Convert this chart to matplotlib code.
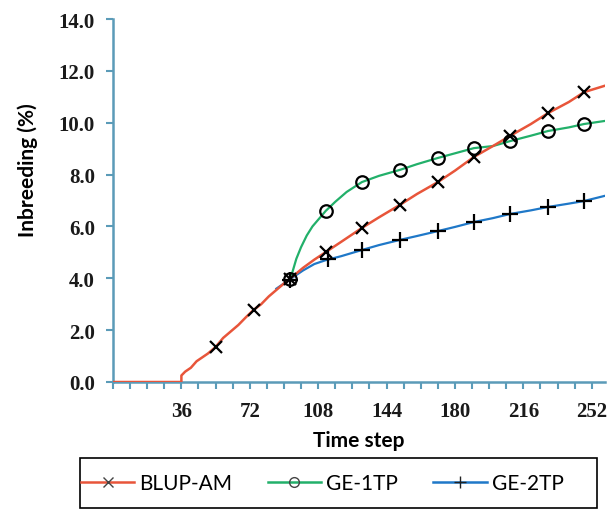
import matplotlib
matplotlib.use('Agg')
import matplotlib.pyplot as plt
from matplotlib.lines import Line2D
from matplotlib.patches import Rectangle
import numpy as np

# values (time step, inbreeding %)
blup_t = [0, 36, 36, 38, 41, 44, 47, 50, 54, 58, 62, 66, 70, 74, 78, 82, 86, 90, 93,
          100, 106, 112, 120, 131, 140, 151, 160, 171, 180, 190, 200, 209, 220, 229, 240, 248, 260]
blup_v = [0.0, 0.0, 0.25, 0.4, 0.55, 0.8, 0.95, 1.1, 1.35, 1.7, 1.95, 2.2, 2.5, 2.78, 3.0, 3.3, 3.55, 3.8, 3.97,
          4.4, 4.72, 5.01, 5.4, 5.94, 6.35, 6.83, 7.25, 7.71, 8.15, 8.68, 9.1, 9.49, 9.95, 10.37, 10.8, 11.18, 11.45]

ge1_t = [93, 94.5, 96.5, 99, 102, 105, 108.5, 112, 117, 123, 131, 140, 151, 160, 171, 180,
         190, 200, 209, 220, 229, 240, 248, 260]
ge1_v = [3.97, 4.25, 4.75, 5.2, 5.65, 6.0, 6.3, 6.6, 6.95, 7.33, 7.71, 7.95, 8.18, 8.4, 8.64, 8.82,
         9.02, 9.1, 9.29, 9.5, 9.68, 9.82, 9.95, 10.08]

ge2_t = [86, 93, 100, 106, 112, 120, 131, 140, 151, 160, 171, 180, 190, 200, 209, 220, 229, 240, 248, 260]
ge2_v = [3.6, 3.95, 4.3, 4.55, 4.7, 4.85, 5.09, 5.28, 5.48, 5.63, 5.82, 5.98, 6.17, 6.32, 6.48, 6.62,
         6.75, 6.88, 6.98, 7.2]

# marker positions
blup_mt = [54, 74, 93, 112, 131, 151, 171, 190, 209, 229, 248]
blup_mv = [1.35, 2.78, 3.97, 5.01, 5.94, 6.83, 7.71, 8.68, 9.49, 10.37, 11.18]
ge1_mt = [93, 112, 131, 151, 171, 190, 209, 229, 248]
ge1_mv = [3.97, 6.6, 7.71, 8.18, 8.64, 9.02, 9.29, 9.68, 9.95]
ge2_mt = [93, 113, 131, 151, 171, 190, 209, 229, 248]
ge2_mv = [3.95, 4.75, 5.09, 5.48, 5.82, 6.17, 6.48, 6.75, 6.98]

labels = ['BLUP-AM', 'GE-1TP', 'GE-2TP']
colors = ['#e8553a', '#22b06a', '#1f78c8']
xtick_labels = [36, 72, 108, 144, 180, 216, 252]
yticks = [0, 2, 4, 6, 8, 10, 12, 14]

spine_col = '#5b9bb8'

fig = plt.figure(figsize=(6.1, 5.1), dpi=100)
ax = fig.add_axes([113/610, 1-383/510, (605-113)/610, (383-20)/510])

ax.plot(ge2_t, ge2_v, color=colors[2], lw=1.6, zorder=2)
ax.plot(ge1_t, ge1_v, color=colors[1], lw=1.6, zorder=3)
ax.plot(blup_t, blup_v, color=colors[0], lw=1.8, zorder=4)

ax.plot(ge2_mt, ge2_mv, ls='none', marker='+', ms=12, mew=1.6, color='black', zorder=5)
ax.plot(ge1_mt, ge1_mv, ls='none', marker='o', ms=9, mew=1.6, mec='black', mfc='none', zorder=5)
ax.plot(blup_mt, blup_mv, ls='none', marker='x', ms=9, mew=1.6, color='black', zorder=5)

ax.set_xlim(0, 259)
ax.set_ylim(0, 14)
ax.set_xticks(xtick_labels)
ax.set_xticklabels([str(v) for v in xtick_labels])
ax.set_xticks(np.arange(0, 259, 9), minor=True)
ax.set_yticks(yticks)
ax.set_yticklabels(['%.1f' % v for v in yticks])

for s in ['top', 'right']:
    ax.spines[s].set_visible(False)
for s in ['left', 'bottom']:
    ax.spines[s].set_color(spine_col)
    ax.spines[s].set_linewidth(1.8)

ax.tick_params(axis='both', which='both', color=spine_col, width=1.5, length=5, direction='out')
ax.tick_params(axis='x', which='major', pad=9)
ax.tick_params(axis='y', which='major', pad=8)
for lab in ax.get_xticklabels() + ax.get_yticklabels():
    lab.set_fontfamily('Liberation Serif')
    lab.set_fontweight('bold')
    lab.set_fontsize(15)
    lab.set_color('#1a1a1a')

ax.set_xlabel('Time step', fontfamily='Lato', fontweight='bold', fontsize=15)
ax.xaxis.set_label_coords(0.5, -(431-383)/363)
ax.set_ylabel('Inbreeding (%)', fontfamily='Lato', fontweight='bold', fontsize=15)
ax.yaxis.set_label_coords(-(113-38)/492, (383-170)/363)

handles = [
    Line2D([], [], color=colors[0], lw=1.8, marker='x', ms=7, mew=1, mec='#444444'),
    Line2D([], [], color=colors[1], lw=1.8, marker='o', ms=7, mew=1, mec='#444444', mfc='none'),
    Line2D([], [], color=colors[2], lw=1.8, marker='+', ms=9, mew=1, mec='#222222'),
]
leg = fig.legend(handles, labels, loc='center left', ncol=3,
                 bbox_to_anchor=(78/610, 1-484/510),
                 prop={'family': 'Lato', 'size': 15}, handlelength=2.55, handletextpad=0.25,
                 columnspacing=1.7, frameon=False, borderaxespad=0, borderpad=0.15)

fig.patches.append(Rectangle((80/610, 1-509/510), 517/610, 50/510, transform=fig.transFigure,
                             fill=False, edgecolor='black', linewidth=1.2))

plt.savefig('out.png', dpi=100)
